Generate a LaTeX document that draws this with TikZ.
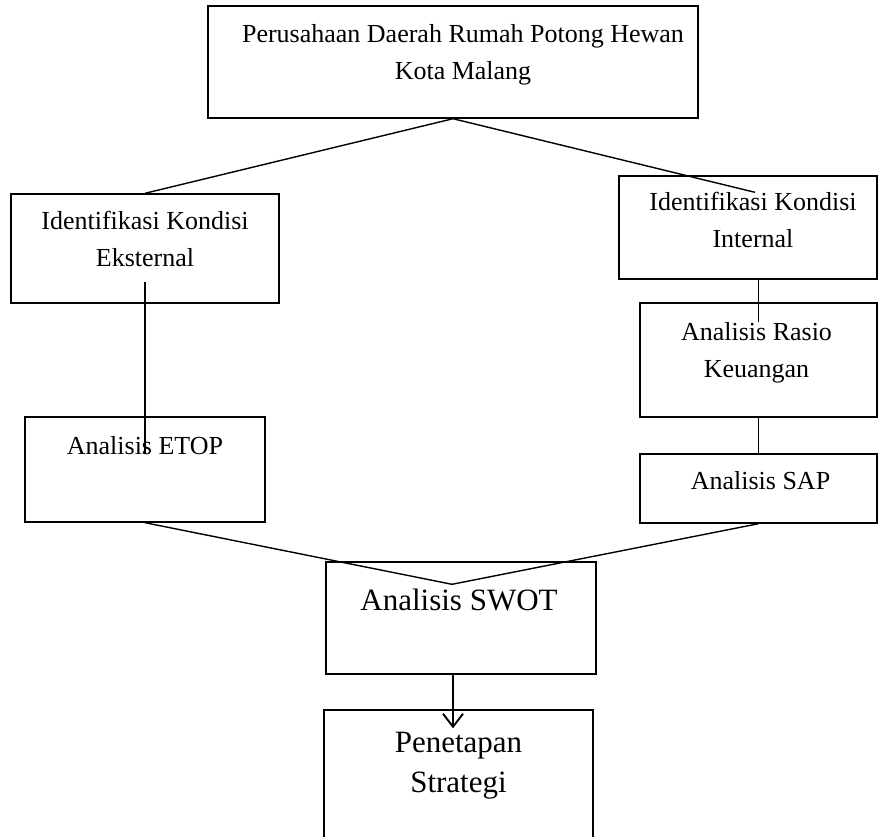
\documentclass[tikz,border=0pt]{standalone}
\usepackage{fontspec}
\setmainfont{Liberation Serif}
\usetikzlibrary{positioning,arrows.meta}
\tikzset{
	box/.style={draw, inner sep=0pt},
	txt/.style={align=center, inner sep=0pt, font=\fontsize{26}{37}\selectfont},
	bigtxt/.style={align=center, inner sep=0pt, font=\fontsize{31}{40}\selectfont}
}
\begin{document}
\begin{tikzpicture}[x=1pt, y=-1pt, line width=1.4pt]
		\useasboundingbox (0,0) rectangle (878,836);
		% boxes
		\node[box, minimum width=490pt, minimum height=112pt] (top) at (453,62) {};
		\node[box, minimum width=268pt, minimum height=109pt] (ext) at (145,248.5) {};
		\node[box, minimum width=258pt, minimum height=103pt] (int) at (748,227.5) {};
		\node[box, minimum width=237pt, minimum height=114pt] (rasio) at (758.5,360) {};
		\node[box, minimum width=240pt, minimum height=105pt] (etop) at (145,469.5) {};
		\node[box, minimum width=237pt, minimum height=69pt] (sap) at (758.5,488.5) {};
		\node[box, minimum width=270pt, minimum height=112pt] (swot) at (461,618) {};
		\node[box, minimum width=269pt, minimum height=140pt] (strat) at (458.5,780) {};
		% texts
		\node[txt, below=18pt of top.north, xshift=10pt] (top-t) {Perusahaan Daerah Rumah Potong Hewan\\Kota Malang};
		\node[txt, below=17pt of ext.north] (ext-t) {Identifikasi Kondisi\\Eksternal};
		\node[txt, below=16pt of int.north, xshift=5pt] (int-t) {Identifikasi Kondisi\\Internal};
		\node[txt, below=19pt of rasio.north, xshift=-2pt] (rasio-t) {Analisis Rasio\\Keuangan};
		\node[txt, below=19pt of etop.north] (etop-t) {Analisis ETOP};
		\node[txt, below=17pt of sap.north, xshift=2pt] (sap-t) {Analisis SAP};
		\node[bigtxt, below=27pt of swot.north, xshift=-2pt] (swot-t) {Analisis SWOT};
		\node[bigtxt, below=22pt of strat.north] (strat-t) {Penetapan\\Strategi};
		% connectors
		\coordinate (int-in) at ([xshift=7pt, yshift=-17pt]int.north);
		\coordinate (swot-in) at ([xshift=-9pt, yshift=-23pt]swot.north);
		\coordinate (strat-in) at ([xshift=-5.5pt, yshift=-19pt]strat.north);
		\draw (top.south) -- (ext.north);
		\draw (top.south) -- (int-in);
		\draw ([yshift=22pt]ext.south) -- ([yshift=-38pt]etop.north);
		\draw (int.south -| rasio.north) -- ([yshift=-20pt]rasio.north);
		\draw (rasio.south) -- (sap.north);
		\draw (etop.south) -- (swot-in) -- (sap.south);
		\draw [-{Straight Barb[length=13pt, width=20pt]}, line width=1.9pt] (swot.south -| strat-in) -- (strat-in);
	\end{tikzpicture}
\end{document}
